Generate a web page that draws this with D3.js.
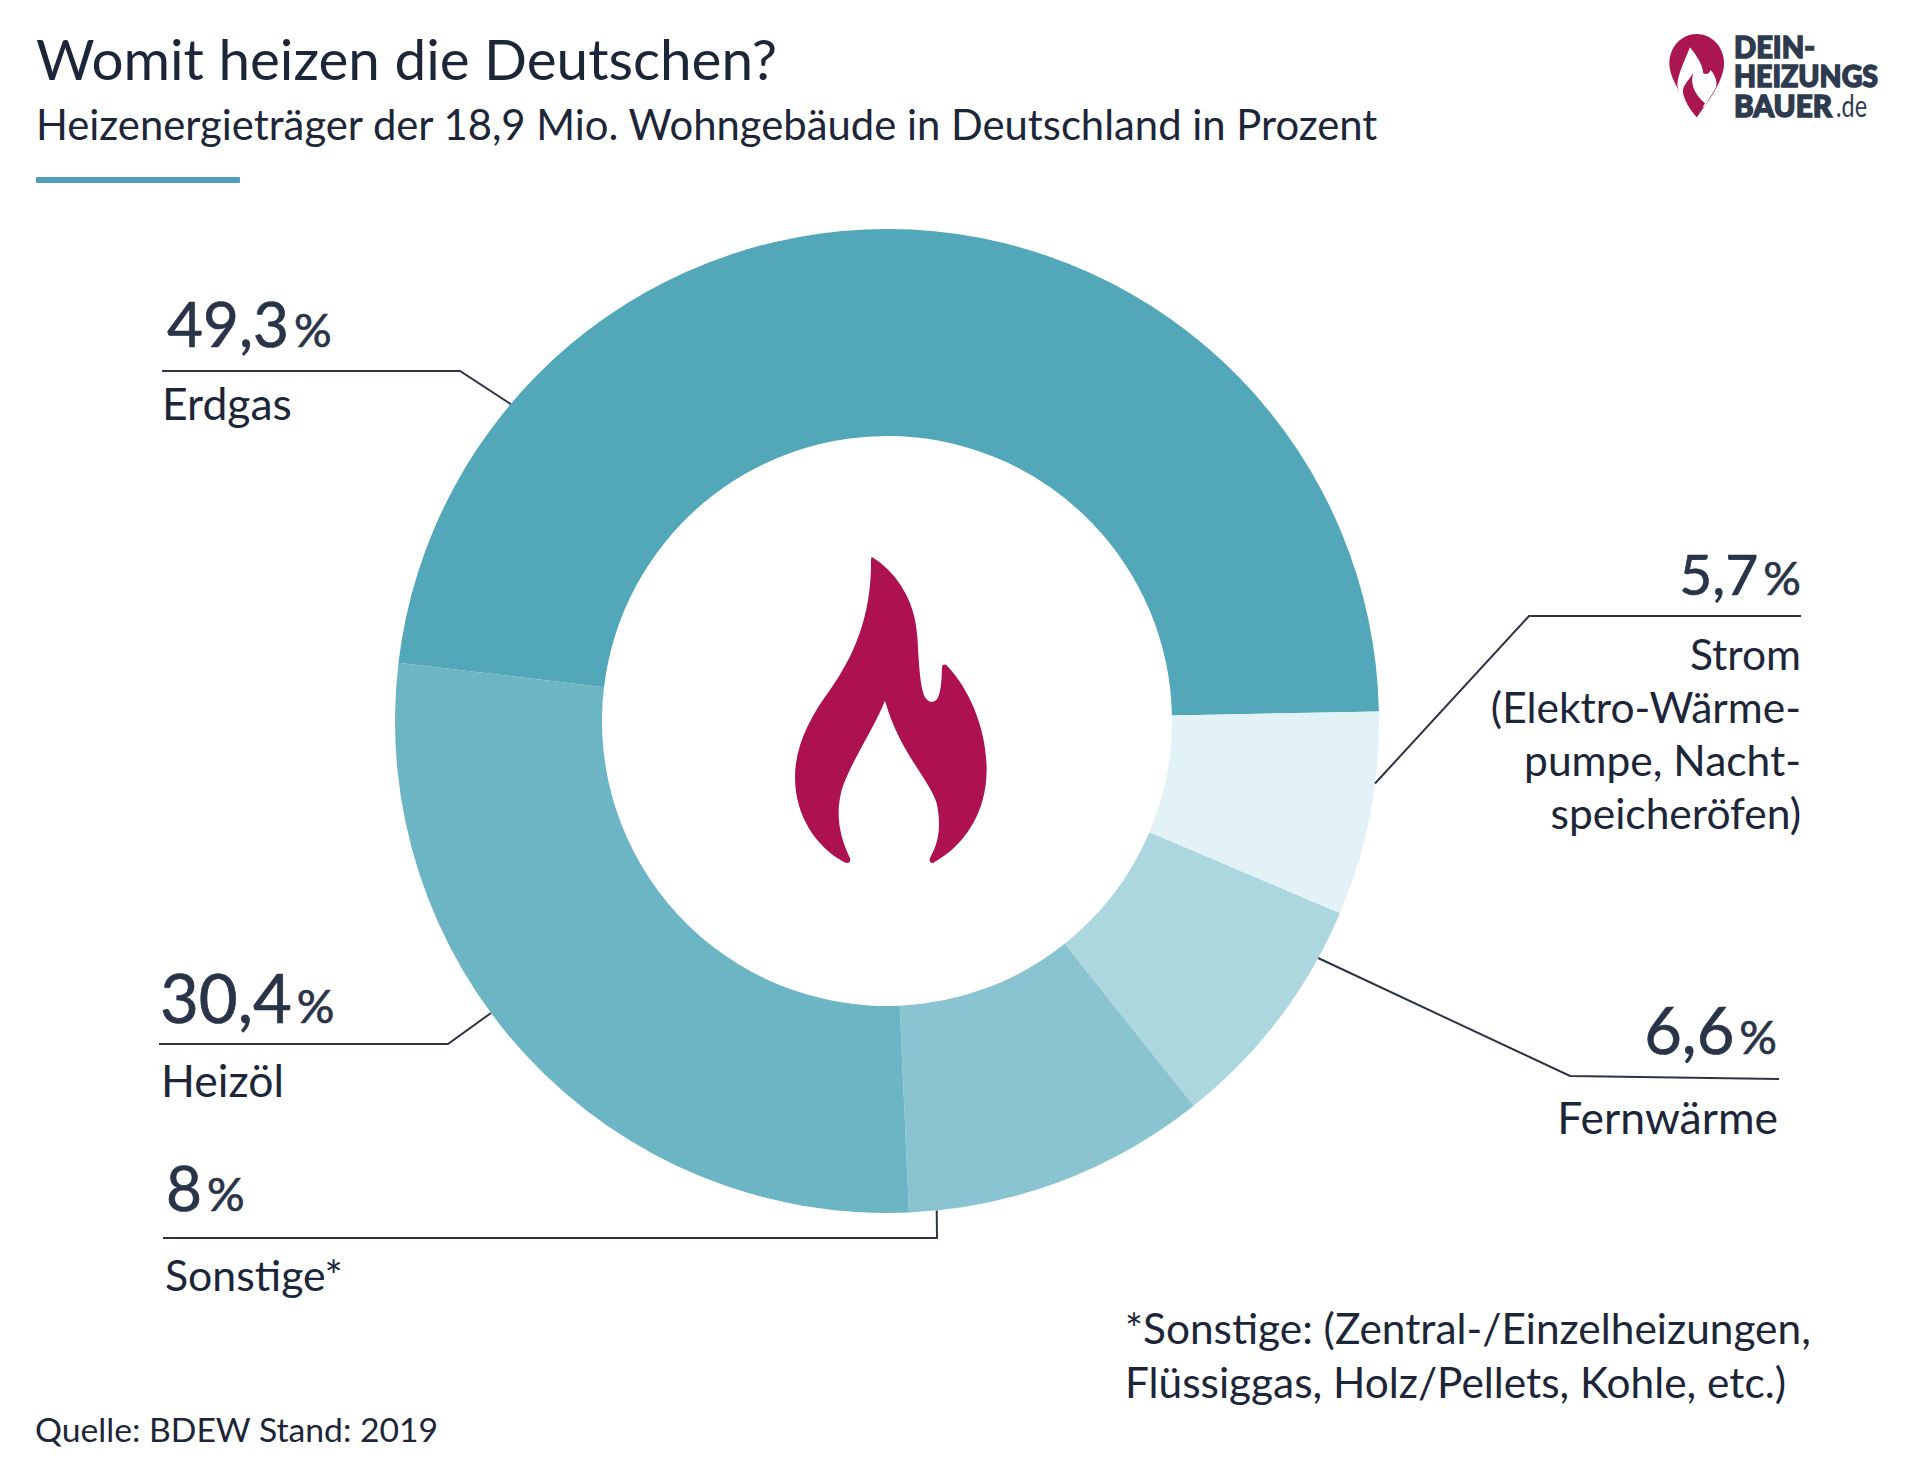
<!DOCTYPE html>
<html>
<head>
    <meta charset="utf-8">
    <title>Womit heizen die Deutschen?</title>
    <style>
        html, body { margin: 0; padding: 0; background: #fff; }
        text { font-family: Lato, "Noto Sans", sans-serif; fill: #1d2638; }
    </style>
    <script src="https://d3js.org/d3.v7.min.js"></script>
</head>
<body>
<script type="text/javascript">

    // printed labels
    var categories = ['Erdgas', 'Strom', 'Fernwärme', 'Sonstige*', 'Heizöl'];
    var printedValues = ['49,3', '5,7', '6,6', '8', '30,4'];

    // share of the ring each slice really takes up in the picture (in %),
    // measured from the slice edges - they do not follow the printed numbers
    var sliceShares = [47.8, 6.7, 7.9, 10.0, 27.6];
    var sliceColors = ['#52a7b9', '#e2f2f6', '#acd7df', '#89c4d0', '#6cb5c4'];

    var stromLines = ['Strom', '(Elektro-Wärme-', 'pumpe, Nacht-', 'speicheröfen)'];
    var footnoteLines = ['*Sonstige: (Zentral-/Einzelheizungen,', 'Flüssiggas, Holz/Pellets, Kohle, etc.)'];

    var width = 1920, height = 1479;
    var cx = 887, cy = 721, outerR = 492, innerR = 285;
    var rad = Math.PI / 180;

    var svg = d3.select('body').append('svg')
        .attr('width', width)
        .attr('height', height)
        .style('display', 'block');

    // header
    svg.append('text').attr('x', 36).attr('y', 80).attr('font-size', 56.6).text('Womit heizen die Deutschen?');
    svg.append('text').attr('x', 36).attr('y', 140).attr('font-size', 41.8)
        .text('Heizenergieträger der 18,9 Mio. Wohngebäude in Deutschland in Prozent');
    svg.append('rect').attr('x', 36).attr('y', 177).attr('width', 204).attr('height', 6)
        .attr('rx', 1).attr('fill', '#4f9db8');

    // ring
    var pie = d3.pie().sort(null).value(function(d) { return d; })
        .startAngle(-83.2 * rad).endAngle(276.8 * rad);
    var arc = d3.arc().innerRadius(innerR).outerRadius(outerR);
    var ring = svg.append('g').attr('transform', 'translate(' + cx + ',' + cy + ')');

    ring.selectAll('path')
        .data(pie(sliceShares))
        .enter()
        .append('path')
        .attr('d', arc)
        .attr('fill', function(d, i) { return sliceColors[i]; });

    // leader lines, last point sits on the ring edge
    var leaders = [
        { angle: -49.9, pts: [[162, 371], [460, 371]] },
        { angle: 97.3, pts: [[1801, 616], [1529, 616]] },
        { angle: 118.8, pts: [[1779, 1079], [1570, 1076]] },
        { angle: 174.2, pts: [[163, 1238], [937, 1238]] },
        { angle: 233.6, pts: [[159, 1044], [448, 1044]] }
    ];
    var line = d3.line();
    svg.selectAll('path.leader')
        .data(leaders)
        .enter()
        .append('path')
        .attr('class', 'leader')
        .attr('fill', 'none')
        .attr('stroke', '#2b3442')
        .attr('stroke-width', 2)
        .attr('d', function(d) {
            var p = d3.pointRadial(d.angle * rad, outerR);
            return line(d.pts.concat([[cx + p[0], cy + p[1]]]));
        });

    // value and name labels
    var labelPos = [
        { x: 167, y: 347, size: 62, nx: 162, ny: 420, nsize: 44.5, anchor: 'start' },
        { x: 1801, y: 595, size: 57, anchor: 'end' },
        { x: 1777, y: 1054, size: 65, nx: 1778, ny: 1134, nsize: 44.5, anchor: 'end' },
        { x: 166, y: 1211, size: 62, nx: 165, ny: 1291, nsize: 42.8, anchor: 'start' },
        { x: 160, y: 1023, size: 67, nx: 161, ny: 1097, nsize: 44.5, anchor: 'start' }
    ];
    categories.forEach(function(name, i) {
        var p = labelPos[i];
        var v = svg.append('text').attr('x', p.x).attr('y', p.y)
            .attr('text-anchor', p.anchor).attr('font-size', p.size)
            .style('fill', '#2a3449').style('stroke', '#2a3449').style('stroke-width', 0.7);
        v.append('tspan').text(printedValues[i]);
        v.append('tspan').attr('dx', 5).attr('font-size', 47).text('%');
        if (i !== 1) {
            svg.append('text').attr('x', p.nx).attr('y', p.ny)
                .attr('text-anchor', p.anchor).attr('font-size', p.nsize).text(name);
        }
    });
    svg.selectAll('text.strom')
        .data(stromLines)
        .enter()
        .append('text')
        .attr('class', 'strom')
        .attr('x', 1801)
        .attr('y', function(d, i) { return 670 + i * 53; })
        .attr('text-anchor', 'end')
        .attr('font-size', 42.5)
        .text(function(d) { return d; });

    // footnote + source
    svg.selectAll('text.note')
        .data(footnoteLines)
        .enter()
        .append('text')
        .attr('class', 'note')
        .attr('x', 1125)
        .attr('y', function(d, i) { return 1344 + i * 54; })
        .attr('font-size', 42.4)
        .text(function(d) { return d; });
    svg.append('text').attr('x', 35).attr('y', 1442).attr('font-size', 33.7).text('Quelle: BDEW Stand: 2019');

    // flame in the middle of the ring
    svg.append('path')
        .attr('transform', 'translate(760,540) scale(0.3333)')
        .attr('fill', '#ad1150')
        .attr('fill-rule', 'evenodd')
        .attr('d', 'M335 50 C400 90 465 170 472 290 C476 350 478 420 490 460 C497 485 520 495 533 475 ' +
            'C545 450 545 410 546 380 C548 372 556 372 562 378 C630 450 680 570 680 690 C680 820 610 920 520 968 ' +
            'C510 972 505 960 512 950 C535 910 545 860 530 790 C510 720 420 640 375 482 C340 570 270 670 245 750 ' +
            'C225 830 240 890 270 955 C274 968 262 972 252 966 C170 920 105 830 105 710 C105 620 150 530 210 450 ' +
            'C280 350 335 230 333 60 Z');

    // logo top right
    var logo = svg.append('g').attr('transform', 'translate(1640,10) scale(0.3333)');
    logo.append('path').attr('fill', '#a91650')
        .attr('d', 'M170 72 C215 72 252 110 252 160 C252 200 225 250 170 322 C120 255 88 200 88 160 C88 110 125 72 170 72 Z');
    logo.append('path').attr('fill', '#fff')
        .attr('d', 'M150 112 C172 140 188 165 190 190 C200 195 208 190 212 180 C225 195 233 215 228 232 ' +
            'C215 255 205 272 192 292 L150 290 C125 265 112 240 112 222 C115 190 135 150 150 112 Z');
    logo.append('path').attr('fill', '#a91650')
        .attr('d', 'M160 188 C150 215 160 250 195 280 L170 322 L150 296 C135 270 125 250 130 235 C135 220 150 205 160 188 Z');

    var logoLines = [['DEIN-', 58, 81], ['HEIZUNGS', 87, 144], ['BAUER', 117, 98]];
    logoLines.forEach(function(d) {
        svg.append('text').attr('x', 1734).attr('y', d[1])
            .attr('font-size', 31).attr('font-weight', 900)
            .attr('textLength', d[2]).attr('lengthAdjust', 'spacingAndGlyphs')
            .style('fill', '#2e3a4e').style('stroke', '#2e3a4e').style('stroke-width', 1.5)
            .text(d[0]);
    });
    svg.append('text').attr('x', 1836).attr('y', 117).attr('font-size', 31)
        .attr('textLength', 31).attr('lengthAdjust', 'spacingAndGlyphs')
        .style('fill', '#2e3a4e').text('.de');

</script>
</body>
</html>
